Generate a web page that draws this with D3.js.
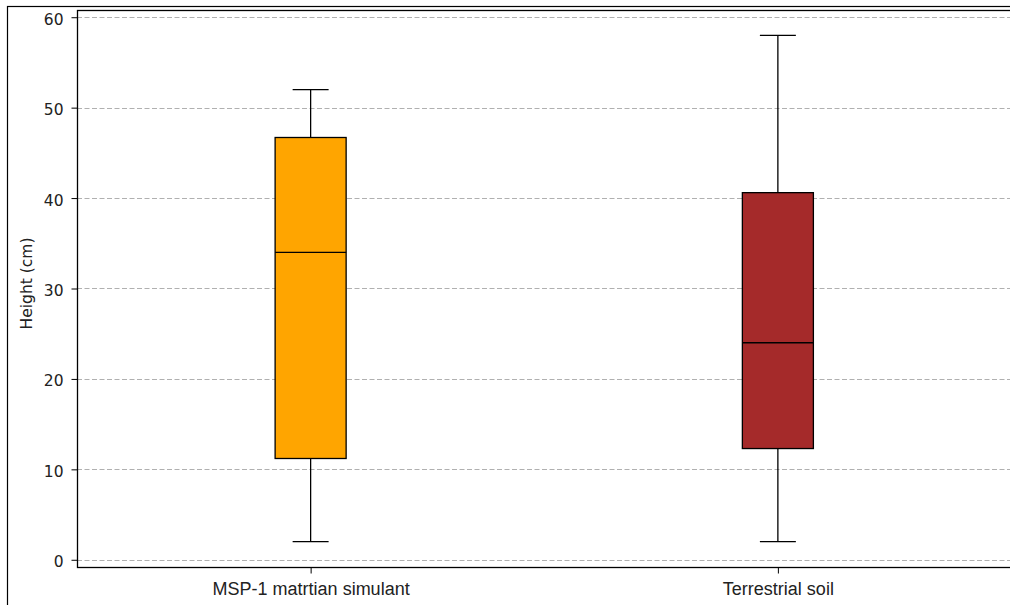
<!DOCTYPE html>
<html><head><meta charset="utf-8">
<script src="https://cdn.jsdelivr.net/npm/d3@7"></script>
<style>body{margin:0;background:#fff;overflow:hidden}</style>
</head><body>
<svg id="chart" width="1010" height="605"></svg>
<script>
const categories = ["MSP-1 matrtian simulant", "Terrestrial soil"];
const whiskerLow = [2, 2];
const q1Values = [11.2, 12.3];
const medianValues = [34, 24];
const q3Values = [46.7, 40.6];
const whiskerHigh = [52, 58];
const boxColors = ["#FFA500", "#A52A2A"];
const yTicks = [0, 10, 20, 30, 40, 50, 60];

(function () {
const svg = d3.select("#chart");
// outer frame
svg.append("rect").attr("x", 7.5).attr("y", 6.5).attr("width", 1100).attr("height", 700)
  .attr("fill", "none").attr("stroke", "#000").attr("stroke-width", 1.2);

const mLeft = 77, mTop = 10, mBottom = 567, mRight = 1011.5;
const x = d3.scaleLinear().domain([0.5, 2.5]).range([mLeft, mRight]);
const y = d3.scaleLinear().domain([-0.8, 60.8]).range([mBottom, mTop]);

const g = svg.append("g");
g.selectAll("line.grid").data(yTicks).enter().append("line")
  .attr("x1", mLeft).attr("x2", mRight)
  .attr("y1", d => Math.round(y(d)) + 0.5).attr("y2", d => Math.round(y(d)) + 0.5)
  .attr("stroke", "#b0b0b0").attr("stroke-width", 1).attr("stroke-dasharray", "5,2.5");

const boxW = 0.152, capW = 0.077;
categories.forEach((c, i) => {
  const p = i + 1;
  const cx = x(p);
  const gg = g.append("g");
  gg.append("line").attr("x1", cx).attr("x2", cx).attr("y1", y(whiskerLow[i])).attr("y2", y(q1Values[i]))
    .attr("stroke", "#000").attr("stroke-width", 1.3);
  gg.append("line").attr("x1", cx).attr("x2", cx).attr("y1", y(whiskerHigh[i])).attr("y2", y(q3Values[i]))
    .attr("stroke", "#000").attr("stroke-width", 1.3);
  [whiskerLow[i], whiskerHigh[i]].forEach(v => {
    gg.append("line").attr("x1", x(p - capW / 2)).attr("x2", x(p + capW / 2))
      .attr("y1", y(v)).attr("y2", y(v)).attr("stroke", "#000").attr("stroke-width", 1.3);
  });
  gg.append("rect").attr("x", x(p - boxW / 2)).attr("width", x(p + boxW / 2) - x(p - boxW / 2))
    .attr("y", y(q3Values[i])).attr("height", y(q1Values[i]) - y(q3Values[i]))
    .attr("fill", boxColors[i]).attr("stroke", "#000").attr("stroke-width", 1.3);
  gg.append("line").attr("x1", x(p - boxW / 2)).attr("x2", x(p + boxW / 2))
    .attr("y1", y(medianValues[i])).attr("y2", y(medianValues[i])).attr("stroke", "#000").attr("stroke-width", 1.3);
});

svg.append("rect").attr("x", mLeft + 0.5).attr("y", mTop + 0.5).attr("width", mRight - mLeft).attr("height", mBottom - mTop)
  .attr("fill", "none").attr("stroke", "#000").attr("stroke-width", 1.3);

const yAxis = svg.append("g").attr("transform", `translate(${mLeft + 0.5},0)`)
  .call(d3.axisLeft(y).tickValues(yTicks).tickSize(6).tickPadding(8));
yAxis.select(".domain").remove();
yAxis.selectAll("text").attr("font-family", "DejaVu Sans").attr("font-size", 15.5).attr("fill", "#222").attr("dy", "0.45em");
yAxis.selectAll("line").attr("stroke", "#000");

const xAxis = svg.append("g").attr("transform", `translate(0,${mBottom + 0.5})`)
  .call(d3.axisBottom(x).tickValues([1, 2]).tickFormat(d => categories[d - 1]).tickSize(6).tickPadding(9));
xAxis.select(".domain").remove();
xAxis.selectAll("text").attr("font-family", "Liberation Sans, Arial").attr("font-size", 18).attr("fill", "#222");
xAxis.selectAll("line").attr("stroke", "#000");

svg.append("text").attr("transform", `translate(31.5,283.5) rotate(-90)`)
  .attr("text-anchor", "middle").attr("font-family", "DejaVu Sans").attr("font-size", 15.5).attr("fill", "#222")
  .text("Height (cm)");
})();
</script>
</body></html>
